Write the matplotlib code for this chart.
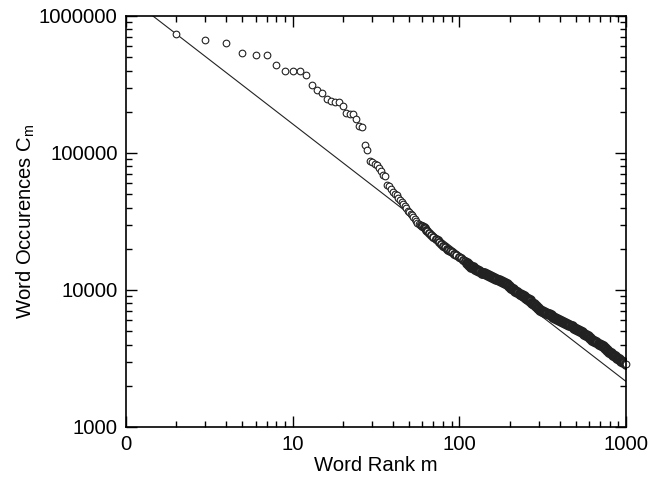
import matplotlib
matplotlib.use("Agg")
import matplotlib.pyplot as plt
import numpy as np

plt.rcParams["font.family"] = ["Liberation Sans", "DejaVu Sans"]

# word rank m and occurrences C_m
rank = [2, 3, 4, 5, 6, 7, 8, 9, 10, 11, 12, 13, 14, 15, 16, 17, 18, 19, 20,
        21, 22, 23, 24, 25, 26, 27, 28, 29, 30, 31, 32, 33, 34, 35, 36, 37, 38,
        39, 40, 41, 42, 43, 44, 45, 46, 47, 48, 49, 50, 51, 52, 53, 54, 55, 56,
        57, 58, 59, 60, 61, 62, 63, 64,
        66, 68, 70, 72, 74, 76, 78, 80, 82, 84, 86, 88, 90, 93, 96, 99, 102,
        105, 108, 111, 114, 117, 120, 124, 128, 132, 136, 140, 144, 148, 152,
        157, 162, 167, 172, 177, 182, 187, 193, 199, 205, 211, 217, 223, 230,
        237, 244, 251, 258, 265, 273, 281, 289, 297, 306, 315, 324, 333, 343,
        353, 363, 374, 385, 396, 408, 420, 432, 445, 458, 471, 485, 499, 514,
        529, 544, 560, 576, 593, 610, 628, 646, 665, 684, 704, 724, 745, 767,
        789, 812, 836, 860, 885, 911, 938, 965, 1000]
count = [735000, 668000, 632000, 537000, 523000, 523000, 441000, 399000,
         399000, 399000, 369000, 312000, 290000, 274000, 247000, 238000,
         237000, 236000, 219000, 195000, 193000, 191000, 176000, 157000,
         154000, 115000, 105000, 88000, 86000, 83000, 82000, 78000, 74000,
         69000, 68500, 58000, 57000, 54500, 52000, 50500, 49000, 47000,
         45500, 44000, 42500, 41000, 39500, 38000, 37000, 36000, 35000,
         34000, 33000, 32000, 31000, 30500, 30000, 29800, 29300, 28700,
         28200, 27600, 27000,
         26000, 25000, 24200, 23600, 23000, 22300, 21600, 21000, 20500,
         20000, 19600, 19300, 18900, 18400, 18000, 17500, 17000, 16600,
         16200, 15700, 15200, 14800, 14600, 14300, 14000, 13700, 13400,
         13200, 13000, 12800, 12600, 12400, 12200, 12000, 11900, 11700,
         11500, 11300, 11000, 10700, 10400, 10100, 9850, 9600, 9400, 9200,
         9000, 8800, 8600, 8400, 8100, 7850, 7600, 7400, 7200, 7050, 6900,
         6800, 6700, 6550, 6400, 6250, 6100, 6000, 5900, 5800, 5700, 5650,
         5550, 5450, 5300, 5200, 5100, 5000, 4900, 4800, 4720, 4600, 4480,
         4350, 4250, 4150, 4050, 3950, 3880, 3760, 3650, 3550, 3450, 3350,
         3280, 3200, 3120, 3050, 2980, 2900]

# power law fit C = A * m^-k
fit_A = 1.42e6
fit_k = 0.94

x_ticks = [1, 10, 100, 1000]
x_tick_labels = ["0", "10", "100", "1000"]
y_ticks = [1000, 10000, 100000, 1000000]
y_tick_labels = ["1000", "10000", "100000", "1000000"]

fig = plt.figure(figsize=(6.49, 4.79), dpi=100)
ax = fig.add_axes([0.194, 0.1086, 0.7706, 0.858])

m_line = np.array([1.0, 1000.0])
ax.plot(m_line, fit_A * m_line ** (-fit_k), color="#222222", lw=0.8)

rank = np.array(rank)
count = np.array(count)
sparse = rank < 60
mid = (rank >= 60) & (rank < 110)
dense = rank >= 110
# the real data has ~1000 overlapping circles, so the tail reads as a dark band
for sel, ms, mew, fc in [(sparse, 4.8, 0.8, "white"), (mid, 5.2, 1.3, "white"),
                         (dense, 5.8, 2.0, "#444444")]:
    ax.plot(rank[sel], count[sel], linestyle="none", marker="o", markersize=ms,
            markerfacecolor=fc, markeredgecolor="#222222", markeredgewidth=mew)
# last point shows as an open circle
ax.plot(rank[-1:], count[-1:], linestyle="none", marker="o", markersize=4.8,
        markerfacecolor="white", markeredgecolor="#222222", markeredgewidth=0.8,
        clip_on=False)

ax.set_xscale("log")
ax.set_yscale("log")
ax.set_xlim(1, 1000)
ax.set_ylim(1000, 1000000)
ax.set_xticks(x_ticks)
ax.set_xticklabels(x_tick_labels)
ax.set_yticks(y_ticks)
ax.set_yticklabels(y_tick_labels)

ax.tick_params(which="both", direction="in", top=True, right=True,
               labelsize=14.6, width=1)
ax.tick_params(which="major", length=8, pad=6)
ax.tick_params(which="minor", length=4.5)
for s in ax.spines.values():
    s.set_linewidth(1.2)

ax.set_xlabel("Word Rank m", fontsize=14.6, labelpad=1)
ax.set_ylabel("Word Occurences C$_\\mathregular{m}$", fontsize=14.6, labelpad=1)

fig.savefig("out.png", dpi=100)
